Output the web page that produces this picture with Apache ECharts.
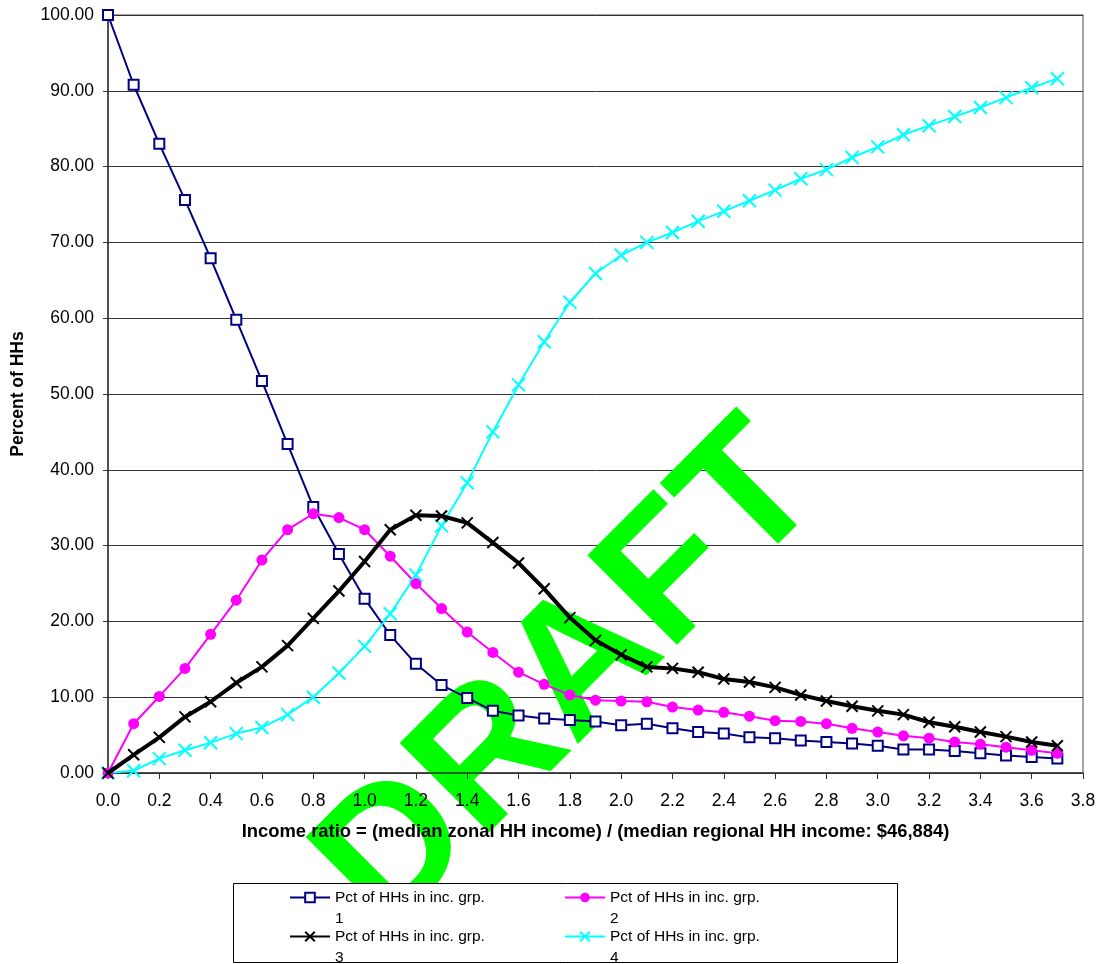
<!DOCTYPE html>
<html>
<head>
<meta charset="utf-8">
<title>Percent of HHs by income ratio</title>
<script src="https://cdn.jsdelivr.net/npm/echarts@6/dist/echarts.min.js"></script>
<style>
  html, body { margin: 0; padding: 0; background: #fff; }
  #chart { width: 1099px; height: 964px; }
</style>
</head>
<body>
<div id="chart"></div>
<script>
// Income ratio (x) and percent of households in each income group (y)
const incomeRatio = [0.0, 0.1, 0.2, 0.3, 0.4, 0.5, 0.6, 0.7, 0.8, 0.9,
  1.0, 1.1, 1.2, 1.3, 1.4, 1.5, 1.6, 1.7, 1.8, 1.9,
  2.0, 2.1, 2.2, 2.3, 2.4, 2.5, 2.6, 2.7, 2.8, 2.9,
  3.0, 3.1, 3.2, 3.3, 3.4, 3.5, 3.6, 3.7];

const grp1 = [100.0, 90.8, 83.0, 75.6, 67.9, 59.8, 51.7, 43.4, 35.1, 28.9,
  23.0, 18.2, 14.4, 11.6, 9.9, 8.2, 7.6, 7.2, 7.0, 6.8,
  6.3, 6.5, 5.9, 5.4, 5.2, 4.7, 4.6, 4.3, 4.1, 3.9,
  3.6, 3.1, 3.1, 2.9, 2.6, 2.3, 2.1, 1.9];

const grp2 = [0.0, 6.5, 10.1, 13.8, 18.3, 22.8, 28.1, 32.1, 34.2, 33.7,
  32.1, 28.6, 25.0, 21.7, 18.6, 15.9, 13.3, 11.7, 10.3, 9.6,
  9.5, 9.4, 8.7, 8.3, 8.0, 7.5, 6.9, 6.8, 6.5, 5.9,
  5.4, 4.9, 4.6, 4.1, 3.8, 3.4, 3.0, 2.6];

const grp3 = [0.0, 2.4, 4.7, 7.4, 9.4, 11.9, 14.0, 16.8, 20.4, 24.0,
  27.9, 32.1, 34.0, 33.9, 33.0, 30.4, 27.7, 24.3, 20.5, 17.5,
  15.6, 14.0, 13.8, 13.3, 12.4, 12.0, 11.3, 10.3, 9.5, 8.8,
  8.2, 7.7, 6.7, 6.1, 5.4, 4.8, 4.1, 3.6];

const grp4 = [0.0, 0.3, 1.9, 3.0, 4.0, 5.2, 6.0, 7.7, 10.0, 13.2,
  16.7, 21.0, 26.1, 32.6, 38.3, 45.0, 51.2, 56.9, 62.1, 65.9,
  68.3, 70.0, 71.3, 72.8, 74.1, 75.5, 76.9, 78.4, 79.6, 81.2,
  82.6, 84.2, 85.4, 86.6, 87.8, 89.1, 90.4, 91.6];

const seriesNames = [
  'Pct of HHs in inc. grp. 1',
  'Pct of HHs in inc. grp. 2',
  'Pct of HHs in inc. grp. 3',
  'Pct of HHs in inc. grp. 4'
];

const FONT = '"Liberation Sans", Arial, Helvetica, sans-serif';
const CROSS = 'path://M0,0L10,10M10,0L0,10';

function pairs(ys) {
  return incomeRatio.map((x, i) => [x, ys[i]]);
}

const chart = echarts.init(document.getElementById('chart'), null, { renderer: 'canvas' });

// One legend per entry so each sits in its own cell of the 2x2 key box.
// The leading blank line keeps the symbol level with the first text line.
function legendAt(name, left, top) {
  return {
    data: [name],
    left: left,
    top: top,
    orient: 'horizontal',
    padding: 0,
    itemWidth: 40,
    itemHeight: 12,
    itemGap: 0,
    z: 20,
    selectedMode: false,
    formatter: n => ' \n' + n.replace(' grp. ', ' grp.\n'),
    textStyle: {
      fontFamily: FONT,
      fontSize: 15.5,
      lineHeight: 21,
      color: '#000'
    }
  };
}

const option = {
  backgroundColor: '#fff',
  animation: false,
  grid: {
    left: 108, top: 15, right: 16, bottom: 191,
    containLabel: false,
    outerBoundsMode: 'none',
    show: true,
    borderColor: '#888',
    borderWidth: 1.5,
    backgroundColor: 'transparent'
  },
  xAxis: {
    type: 'value',
    min: 0, max: 3.8, interval: 0.2,
    z: 3,
    name: 'Income ratio = (median zonal HH income) / (median regional HH income: $46,884)',
    nameLocation: 'middle',
    nameGap: 50,
    nameTextStyle: { fontFamily: FONT, fontSize: 18.4, fontWeight: 'bold', color: '#000' },
    axisLine: { show: true, lineStyle: { color: '#333', width: 1.5 } },
    axisTick: { show: true, inside: false, length: 6, lineStyle: { color: '#333' } },
    axisLabel: {
      fontFamily: FONT, fontSize: 17.5, color: '#000', margin: 19,
      formatter: v => v.toFixed(1)
    },
    splitLine: { show: false }
  },
  yAxis: {
    type: 'value',
    min: 0, max: 100, interval: 10,
    z: 0,
    name: 'Percent of HHs',
    nameLocation: 'middle',
    nameGap: 81,
    nameRotate: 90,
    nameTextStyle: { fontFamily: FONT, fontSize: 17.5, fontWeight: 'bold', color: '#000' },
    axisLine: { show: true, lineStyle: { color: '#333', width: 1.5 } },
    axisTick: { show: true, inside: false, length: 5, lineStyle: { color: '#333' } },
    axisLabel: {
      fontFamily: FONT, fontSize: 17.5, color: '#000', margin: 14,
      formatter: v => v.toFixed(2)
    },
    splitLine: { show: true, lineStyle: { color: '#333', width: 1 } }
  },
  legend: [
    legendAt(seriesNames[0], 289, 866),
    legendAt(seriesNames[1], 564, 866),
    legendAt(seriesNames[2], 289, 905),
    legendAt(seriesNames[3], 564, 905)
  ],
  graphic: [
    {
      type: 'text',
      z: 1,
      x: 571,
      y: 679,
      rotation: Math.PI / 4,
      silent: true,
      style: {
        text: 'DRAFT',
        fill: '#00ff00',
        fontFamily: FONT,
        fontWeight: 'bold',
        fontSize: 184,
        align: 'center',
        verticalAlign: 'middle',
        textAlign: 'center',
        textVerticalAlign: 'middle'
      }
    },
    {
      type: 'rect',
      z: 10,
      silent: true,
      shape: { x: 233.5, y: 883.5, width: 664, height: 79 },
      style: { fill: '#fff', stroke: '#000', lineWidth: 1 }
    }
  ],
  series: [
    {
      name: seriesNames[0],
      type: 'line',
      z: 5,
      data: pairs(grp1),
      symbol: 'emptyRect',
      symbolSize: 10,
      lineStyle: { color: '#000080', width: 2 },
      itemStyle: { color: '#000080', borderColor: '#000080', borderWidth: 2 }
    },
    {
      name: seriesNames[1],
      type: 'line',
      z: 5,
      data: pairs(grp2),
      symbol: 'circle',
      symbolSize: 11,
      lineStyle: { color: '#ff00ff', width: 2 },
      itemStyle: { color: '#ff00ff', borderColor: '#ff00ff', borderWidth: 0 }
    },
    {
      name: seriesNames[2],
      type: 'line',
      z: 6,
      data: pairs(grp3),
      symbol: CROSS,
      symbolSize: 11,
      lineStyle: { color: '#000', width: 4 },
      itemStyle: { color: '#000', borderColor: '#000', borderWidth: 2 }
    },
    {
      name: seriesNames[3],
      type: 'line',
      z: 5,
      data: pairs(grp4),
      symbol: CROSS,
      symbolSize: 13,
      lineStyle: { color: '#00ffff', width: 2 },
      itemStyle: { color: '#00ffff', borderColor: '#00ffff', borderWidth: 2 }
    }
  ]
};

chart.setOption(option);
</script>
</body>
</html>
